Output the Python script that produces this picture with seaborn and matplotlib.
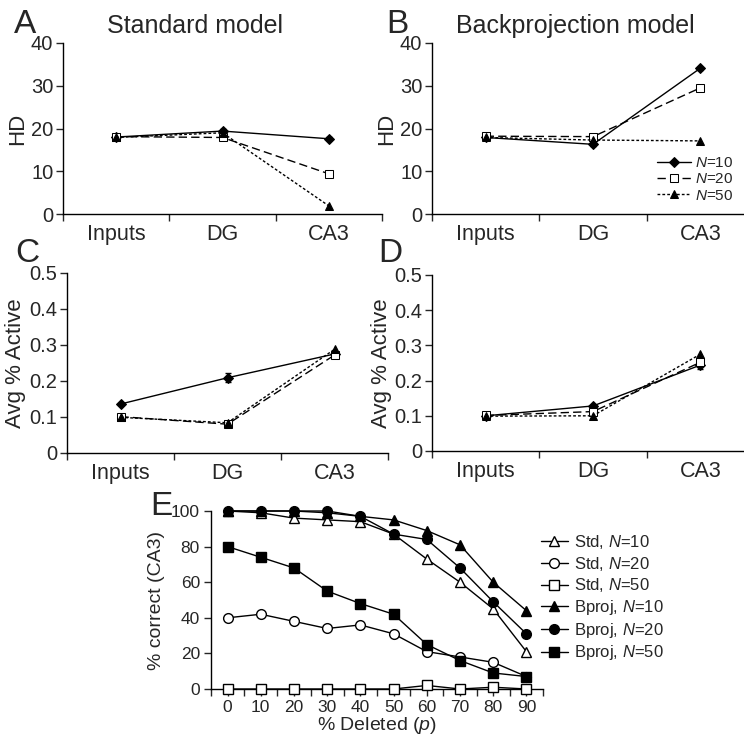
import numpy as np
import pandas as pd
import seaborn as sns
import matplotlib
matplotlib.use("Agg")
import matplotlib.pyplot as plt
from matplotlib.ticker import FuncFormatter

# ---- data ----
regions = ["Inputs", "DG", "CA3"]

# panel A / B : Hamming distance
std_hd_n10 = [18.0, 19.4, 17.6]
std_hd_n20 = [18.1, 17.9, 9.4]
std_hd_n50 = [17.9, 19.0, 1.9]
bp_hd_n10 = [17.9, 16.3, 34.1]
bp_hd_n20 = [18.2, 18.1, 29.5]
bp_hd_n50 = [17.9, 17.3, 17.1]
std_hd_err = [0.2, 0.6, 0.3]
bp_hd_err = [0.2, 0.3, 0.4]

# panel C / D : average fraction active
std_act_n10 = [0.136, 0.209, 0.275]
std_act_n20 = [0.101, 0.080, 0.272]
std_act_n50 = [0.099, 0.084, 0.288]
bp_act_n10 = [0.100, 0.128, 0.244]
bp_act_n20 = [0.101, 0.112, 0.252]
bp_act_n50 = [0.099, 0.100, 0.275]
std_act_err = [0.004, 0.012, 0.006]
bp_act_err = [0.003, 0.004, 0.010]

# panel E : % correct vs % deleted
pct_deleted = [0, 10, 20, 30, 40, 50, 60, 70, 80, 90]
std_n10 = [100, 99, 96, 95, 94, 87, 73, 60, 45, 21]
std_n20 = [40, 42, 38, 34, 36, 31, 21, 18, 15, 7]
std_n50 = [0, 0, 0, 0, 0, 0, 2, 0, 1, 0]
bp_n10 = [100, 100, 100, 99, 97, 95, 89, 81, 60, 44]
bp_n20 = [100, 100, 100, 100, 97, 87, 84, 68, 49, 31]
bp_n50 = [80, 74, 68, 55, 48, 42, 25, 16, 9, 7]

sns.set_style("ticks")
plt.rcParams["font.family"] = ["Liberation Sans", "DejaVu Sans"]
plt.rcParams["mathtext.fontset"] = "custom"
plt.rcParams["mathtext.rm"] = "Liberation Sans"
plt.rcParams["mathtext.it"] = "Liberation Sans:italic"
plt.rcParams["axes.edgecolor"] = "black"
plt.rcParams["axes.linewidth"] = 1.0

fig = plt.figure(figsize=(7.44, 7.41), dpi=100)
W, H = 744.0, 741.0


def px_axes(left, top, right, bottom):
    return fig.add_axes([left / W, 1 - bottom / H, (right - left) / W, (bottom - top) / H])


# line styles per N
n_styles = [
    ("N=10", "D", "black", "-"),
    ("N=20", "s", "white", (0, (6, 3))),
    ("N=50", "^", "black", (0, (2, 1.5))),
]


def region_panel(ax, series, err, ylim, yticks, ysize):
    for (lab, mk, fc, ls), vals in zip(n_styles, series):
        sns.lineplot(x=regions, y=vals, ax=ax, color="black", marker=mk,
                     markerfacecolor=fc, markeredgecolor="black", markersize=5.5,
                     linestyle=ls, linewidth=1.0, label=r"$\it{N}$" + lab[1:],
                     clip_on=False, zorder=3)
    ax.errorbar(range(3), series[0], yerr=err, fmt="none", ecolor="black",
                elinewidth=1.0, capsize=2, zorder=2)
    ax.set_xlim(-0.5, 2.5)
    ax.set_ylim(*ylim)
    ax.set_xticks([-0.5, 0.5, 1.5, 2.5])
    ax.set_xticklabels([])
    ax.set_xticks([0, 1, 2], minor=True)
    ax.set_xticklabels(regions, minor=True, fontsize=15.5)
    ax.tick_params(axis="x", which="minor", length=0, pad=7)
    ax.tick_params(axis="x", which="major", direction="out", length=5, width=1)
    ax.set_yticks(yticks)
    ax.yaxis.set_major_formatter(FuncFormatter(lambda v, p: f"{v:g}"))
    ax.tick_params(axis="y", direction="out", length=5, width=1, labelsize=ysize, pad=2)
    ax.set_xlabel("")
    sns.despine(ax=ax)
    ax.get_legend().remove()


axA = px_axes(63, 43, 382, 214)
region_panel(axA, [std_hd_n10, std_hd_n20, std_hd_n50], std_hd_err, (0, 40),
             [0, 10, 20, 30, 40], 14.5)
axA.set_ylabel("HD", fontsize=16, labelpad=2)

axB = px_axes(432, 43, 754, 214)
region_panel(axB, [bp_hd_n10, bp_hd_n20, bp_hd_n50], bp_hd_err, (0, 40),
             [0, 10, 20, 30, 40], 14.5)
axB.set_ylabel("HD", fontsize=16, labelpad=2)
hB, lB = axB.get_legend_handles_labels()
axB.legend(hB, lB, loc="upper left", bbox_to_anchor=(657 / W, 1 - 156 / H),
           bbox_transform=fig.transFigure, frameon=False, fontsize=11,
           handlelength=2.2, handletextpad=0.3, labelspacing=0.15,
           borderpad=0, borderaxespad=0)

axC = px_axes(67, 273, 388, 453)
region_panel(axC, [std_act_n10, std_act_n20, std_act_n50], std_act_err, (0, 0.5),
             [0, 0.1, 0.2, 0.3, 0.4, 0.5], 14.5)
axC.set_ylabel("Avg % Active", fontsize=16, labelpad=2)

axD = px_axes(432, 275, 754, 451)
region_panel(axD, [bp_act_n10, bp_act_n20, bp_act_n50], bp_act_err, (0, 0.5),
             [0, 0.1, 0.2, 0.3, 0.4, 0.5], 14.5)
axD.set_ylabel("Avg % Active", fontsize=16, labelpad=2)

# titles and panel letters
fig.text(195 / W, 1 - 33 / H, "Standard model", fontsize=18, ha="center", va="baseline")
fig.text(575 / W, 1 - 33 / H, "Backprojection model", fontsize=18, ha="center", va="baseline")
for letter, x, y in [("A", 14, 33), ("B", 386, 33), ("C", 15, 262), ("D", 378, 262), ("E", 150, 515)]:
    fig.text(x / W, 1 - y / H, letter, fontsize=24, ha="left", va="baseline")

# panel E
axE = px_axes(211, 511, 543, 689)
e_series = [
    ("Std, $\\it{N}$=10", std_n10, "^", "white"),
    ("Std, $\\it{N}$=20", std_n20, "o", "white"),
    ("Std, $\\it{N}$=50", std_n50, "s", "white"),
    ("Bproj, $\\it{N}$=10", bp_n10, "^", "black"),
    ("Bproj, $\\it{N}$=20", bp_n20, "o", "black"),
    ("Bproj, $\\it{N}$=50", bp_n50, "s", "black"),
]
for lab, vals, mk, fc in e_series:
    sns.lineplot(x=pct_deleted, y=vals, ax=axE, color="black", marker=mk,
                 markerfacecolor=fc, markeredgecolor="black", markersize=7,
                 markeredgewidth=1.0, linewidth=1.0, label=lab, clip_on=False, zorder=3)
axE.set_xlim(-5, 95)
axE.set_ylim(0, 100)
axE.set_xticks(pct_deleted)
axE.set_xticks(np.arange(-5, 96, 10), minor=True)
axE.set_yticks([0, 20, 40, 60, 80, 100])
axE.tick_params(axis="both", which="both", direction="out", length=5, width=1, labelsize=12.5, pad=3)
axE.set_xlabel("% Deleted ($\\it{p}$)", fontsize=14, labelpad=0)
axE.set_ylabel("% correct (CA3)", fontsize=14, labelpad=4)
sns.despine(ax=axE)
hE, lE = axE.get_legend_handles_labels()
axE.legend(hE, lE, loc="upper left", bbox_to_anchor=(541 / W, 1 - 533 / H),
           bbox_transform=fig.transFigure, frameon=False, fontsize=12,
           handlelength=1.6, handletextpad=0.4, labelspacing=0.22,
           borderpad=0, borderaxespad=0)

fig.savefig("out.png", dpi=100)
